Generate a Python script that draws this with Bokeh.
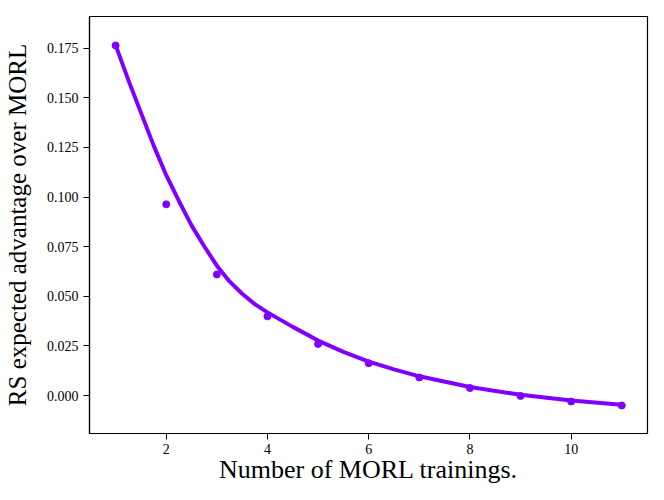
from bokeh.plotting import figure
from bokeh.models import FixedTicker, PrintfTickFormatter, Range1d
from bokeh.embed import file_html
from bokeh.resources import INLINE

# Observed points
trainings = [1, 2, 3, 4, 5, 6, 7, 8, 9, 10, 11]
advantage = [0.1763, 0.0963, 0.0610, 0.0399, 0.0260, 0.0163, 0.0091, 0.0038, -0.0002, -0.0030, -0.0050]

# Fitted curve
curve_x = [1, 1.25, 1.5, 1.75, 2, 2.25, 2.5, 2.75, 3, 3.25, 3.5, 3.75, 4, 4.5, 5, 5.5, 6, 6.5,
           7, 8, 9, 10, 11]
curve_y = [0.1765, 0.159, 0.1425, 0.126, 0.111, 0.098, 0.0857, 0.0752, 0.0654, 0.0575, 0.0513,
           0.046, 0.0419, 0.0346, 0.0277, 0.022, 0.0171, 0.0132, 0.0097, 0.0043, 0.0004,
           -0.0025, -0.0046]

x_ticks = [2, 4, 6, 8, 10]
y_ticks = [0.0, 0.025, 0.05, 0.075, 0.1, 0.125, 0.15, 0.175]

color = "#8000FF"
font = "Liberation Serif"

p = figure(width=656, height=492, output_backend="svg", toolbar_location=None,
           x_range=Range1d(0.484, 11.508), y_range=Range1d(-0.0191, 0.1909),
           min_border_left=87, min_border_right=9, min_border_top=16, min_border_bottom=59)

p.line(curve_x, curve_y, line_color=color, line_width=4, line_join="round", line_cap="round")
p.scatter(trainings, advantage, size=7, fill_color=color, line_color=color)

p.grid.visible = False
p.outline_line_color = "black"
p.outline_line_width = 1.2
p.outline_line_alpha = 1

for ax in (p.xaxis[0], p.yaxis[0]):
    ax.axis_line_color = "black"
    ax.axis_line_width = 1.2
    ax.major_tick_in = 0
    ax.major_tick_out = 6
    ax.major_tick_line_color = "black"
    ax.minor_tick_line_color = None
    ax.major_label_text_font = font
    ax.major_label_text_font_size = "14px"
    ax.major_label_text_color = "black"
    ax.axis_label_text_font = font
    ax.axis_label_text_font_style = "normal"
    ax.axis_label_text_color = "black"

p.xaxis.ticker = FixedTicker(ticks=x_ticks)
p.yaxis.ticker = FixedTicker(ticks=y_ticks)
p.yaxis.formatter = PrintfTickFormatter(format="%.3f")
p.xaxis.axis_label = "Number of MORL trainings."
p.yaxis.axis_label = "RS expected advantage over MORL"
p.xaxis.axis_label_text_font_size = "26px"
p.yaxis.axis_label_text_font_size = "25px"
p.xaxis.major_label_standoff = 4
p.yaxis.major_label_standoff = 5
p.xaxis.axis_label_standoff = -2
p.yaxis.axis_label_standoff = 13

open("out.html", "w").write(file_html(p, INLINE))
